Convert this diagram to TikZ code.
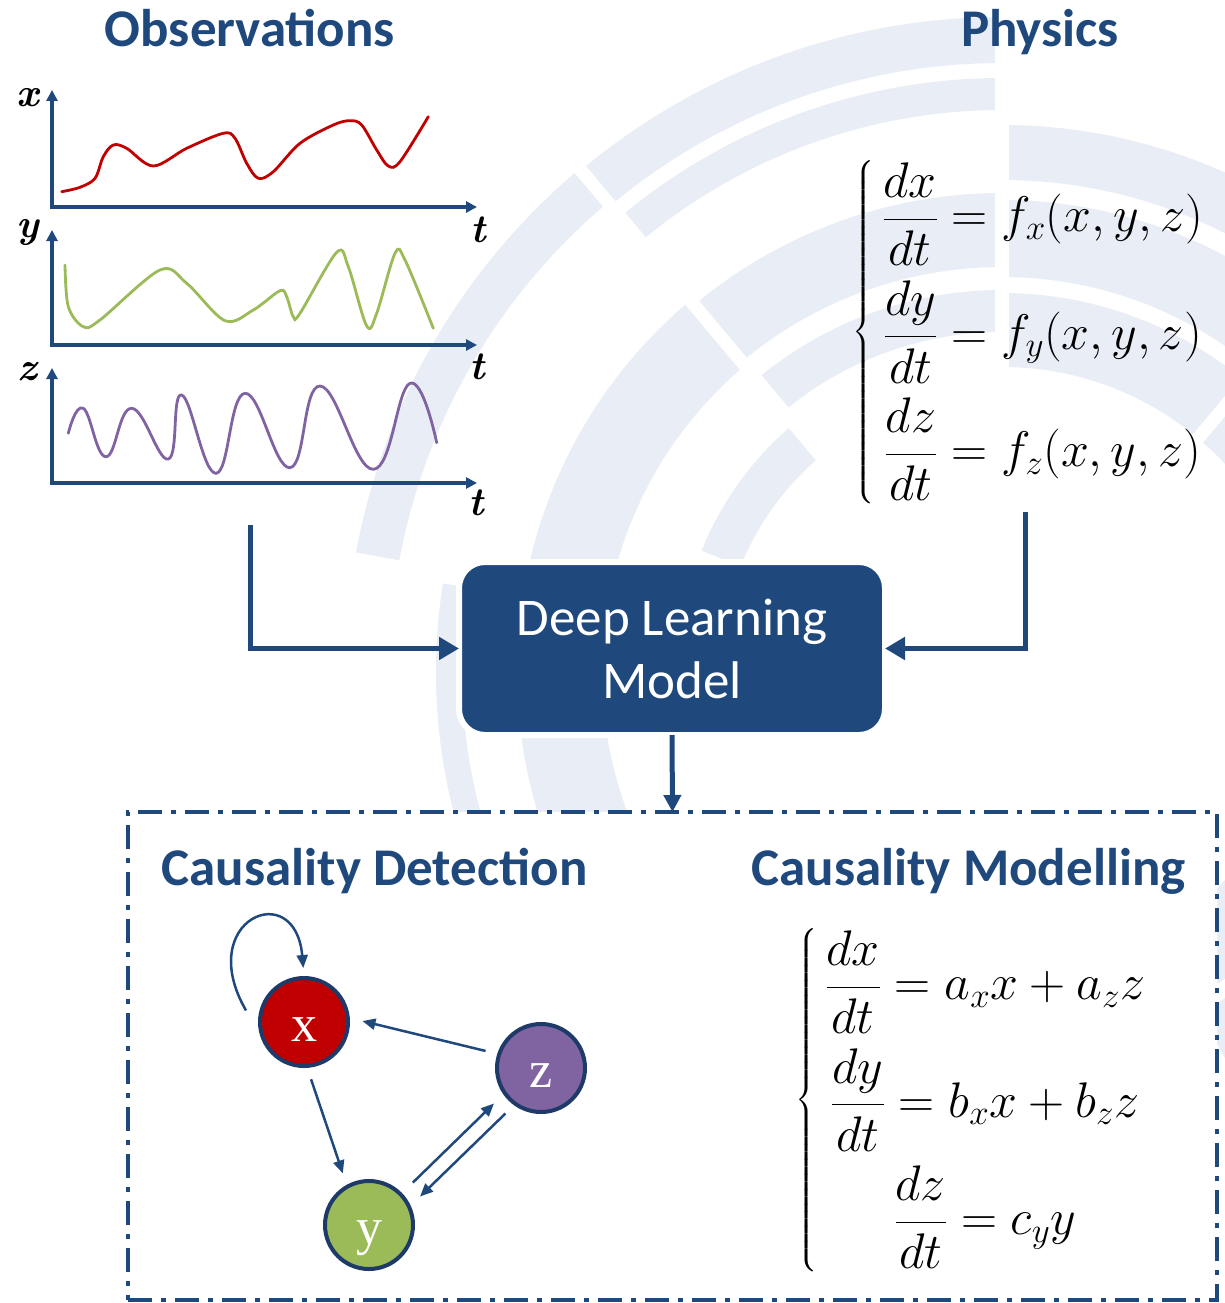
\documentclass[tikz,border=0pt]{standalone}
\usepackage{fix-cm}
\usepackage{amsmath}
\usepackage{fontspec}
\newfontfamily\calibri{Carlito}
\newfontfamily\serifx{Liberation Serif}
\usetikzlibrary{arrows.meta}
\definecolor{navy}{RGB}{31,73,125}
\definecolor{navyd}{RGB}{30,58,104}
\definecolor{wmc}{RGB}{233,237,246}
\definecolor{cred}{RGB}{192,0,0}
\definecolor{cgreen}{RGB}{155,187,89}
\definecolor{cpurple}{RGB}{128,100,162}
% annular sector: inner radius, outer radius, start angle, end angle
\newcommand\wmseg[4]{\fill[wmc] (#3:#2pt) arc[start angle=#3,end angle=#4,radius=#2pt] -- (#4:#1pt) arc[start angle=#4,end angle=#3,radius=#1pt] -- cycle;}
\begin{document}
\begin{tikzpicture}[x=1pt,y=1pt,
  flow/.style={draw=navy, line width=5pt, -{Triangle[length=20pt,width=22pt]}},
  flowthin/.style={draw=navy, line width=5pt, -{Triangle[length=17pt,width=17pt]}},
  axisline/.style={draw=navy, line width=3.5pt, {Triangle[length=11pt,width=11pt]}-{Triangle[length=11pt,width=11pt]}},
  axlabel/.style={font=\fontsize{40}{42}\selectfont\bfseries\itshape, inner sep=0pt},
  curve/.style={line width=2.8pt, line cap=round},
  title/.style={font=\calibri\bfseries\fontsize{53}{60}\selectfont, text=navy, inner sep=0pt},
  dlbox/.style={rounded corners=26pt, fill=navy, draw=white, line width=6pt,
    minimum width=426pt, minimum height=173pt, align=center, text=white,
    font=\calibri\fontsize{53}{63}\selectfont, inner sep=0pt, outer sep=0pt},
  resbox/.style={draw=navy, fill=white, line width=4.5pt,
    dash pattern=on 24pt off 9pt on 5pt off 9pt,
    minimum width=1089pt, minimum height=488pt, inner sep=0pt, outer sep=0pt},
  var/.style={circle, draw=navyd, line width=4pt, minimum size=88pt, inner sep=0pt,
    text=white, font=\serifx\fontsize{52}{52}\selectfont, text height=38pt, text depth=0pt},
  edge/.style={draw=navy, line width=2.5pt, -{Triangle[length=13pt,width=11pt]}},
  eqn/.style={anchor=west, inner sep=0pt, font=\fontsize{50}{60}\selectfont}
]
\useasboundingbox (0,0) rectangle (1225,-1303);
\fill[white] (0,0) rectangle (1225,-1303);

% faint segmented rings in the background
\begin{scope}
  \clip (0,0) rectangle (1225,-1303);
  \begin{scope}[shift={(1002,-672)}]
    \wmseg{609}{655}{90}{130}
    \wmseg{562}{594}{90}{130}
    \wmseg{405}{479}{90}{130}
    \wmseg{340}{382}{90}{130}
    \wmseg{613}{657}{130}{169.5}
    \wmseg{540}{566}{171}{215}
    \wmseg{400}{485}{130}{215}
    \wmseg{282}{324}{130}{158}
    \wmseg{492}{547}{-60}{90}
    \wmseg{395}{472}{-60}{90}
    \wmseg{305}{379}{-60}{90}
    \draw[white,line width=13pt] (0,0) -- (130:720pt);
    \draw[white,line width=14pt] (0,0) -- (90:720pt);
    \draw[white,line width=13pt] (0,0) -- (50:720pt);
  \end{scope}
\end{scope}

% titles of the upper part
\node[title, anchor=base] (tobs) at (250,-47) {Observations};
\node[title, anchor=base] (tphys) at (1040,-47) {Physics};

% observed time series
\draw[axisline] (52,-90) -- (52,-207) -- (477,-207);
\draw[axisline] (52,-230) -- (52,-345) -- (477,-345);
\draw[axisline] (52,-368) -- (52,-483) -- (477,-483);
\node[axlabel] (lx) at (28,-98) {x};
\node[axlabel] (ly) at (28,-232) {y};
\node[axlabel] (lz) at (27,-372) {z};
\node[axlabel] (lt1) at (478,-230) {t};
\node[axlabel] (lt2) at (477,-367) {t};
\node[axlabel] (lt3) at (476,-503) {t};

\draw[curve, cred] plot[smooth, tension=0.55] coordinates {(61.7,-191.7) (80,-187.3) (95,-178.3) (103.3,-156.7) (113.3,-145) (126.7,-148.3) (153.3,-166) (186.7,-148.3) (223.3,-133.3) (235,-138.3) (246.7,-163.3) (258.3,-178.3) (273.3,-171.7) (300,-143.3) (333.3,-125) (350,-120.7) (361.7,-125) (376.7,-150) (388.3,-166) (400,-161.7) (428.3,-116.7)};
\draw[curve, cgreen] plot[smooth, tension=0.55] coordinates {(65,-265) (68.3,-306.7) (83.3,-326.7) (100,-320) (160,-270) (186.7,-283.3) (225,-320.7) (253.3,-310) (280,-290.7) (286.7,-296.7) (293.3,-316.7) (300,-313.3) (336.7,-252.3) (348.3,-266.7) (366.7,-326) (376.7,-313.3) (395,-253.3) (405,-260) (433.3,-328.3)};
\draw[curve, cpurple] plot[smooth, tension=0.75] coordinates {(68.3,-433.3) (83.3,-408.3) (106,-456.7) (131.7,-408.3) (168.3,-459) (181.7,-395) (216,-473.3) (245,-393.3) (290,-467.7) (320,-386) (373.3,-469.3) (410,-383.3) (436.7,-442.7)};

% governing equations
\node[eqn] (phys) at (852,-332) {$\left\{\begin{array}{@{\hspace{8pt}}c@{}}
  \dfrac{dx}{dt}=f_x(x,y,z)\\[31pt]
  \dfrac{dy}{dt}=f_y(x,y,z)\\[31pt]
  \dfrac{dz}{dt}=f_z(x,y,z)
  \end{array}\right.$};

% model block
\node[dlbox] (dl) at (672,-648.5) {Deep Learning\\Model};
\coordinate (obsout) at (250,-525);
\coordinate (physout) at (1025,-512);
\draw[flow] (obsout) |- (dl.west);
\draw[flow] (physout) |- (dl.east);

% result frame
\node[resbox] (res) at (672.5,-1056) {};
\draw[flowthin] (dl.south) -- (res.north);

\node[title, anchor=base] (tdet) at (374.5,-885) {Causality Detection};
\node[title, anchor=base] (tmod) at (968.5,-885) {Causality Modelling};

% causal graph
\node[var, fill=cred] (x) at (304,-1022) {x};
\node[var, fill=cpurple] (z) at (541,-1068) {z};
\node[var, fill=cgreen] (y) at (369,-1225) {y};
\draw[edge, shorten <=12pt, shorten >=13pt] (z.162) -- (x.5);
\draw[edge, shorten <=12pt, shorten >=12pt] (x.274) -- (y.119);
\draw[edge, shorten <=15pt, shorten >=13pt] (y.44) -- (z.215);
\draw[edge, shorten <=12pt, shorten >=13pt] (z.234) -- (y.25);
\draw[edge, shorten >=8pt] ([shift={(-13pt,2pt)}]x.168) .. controls +(120:105pt) and +(95:100pt) .. (x.north);

% identified model
\node[eqn] (model) at (795,-1100) {$\left\{\begin{array}{@{\hspace{8pt}}c@{}}
  \dfrac{dx}{dt}=a_x x+a_z z\\[31pt]
  \dfrac{dy}{dt}=b_x x+b_z z\\[31pt]
  \dfrac{dz}{dt}=c_y y
  \end{array}\right.$};
\end{tikzpicture}
\end{document}
